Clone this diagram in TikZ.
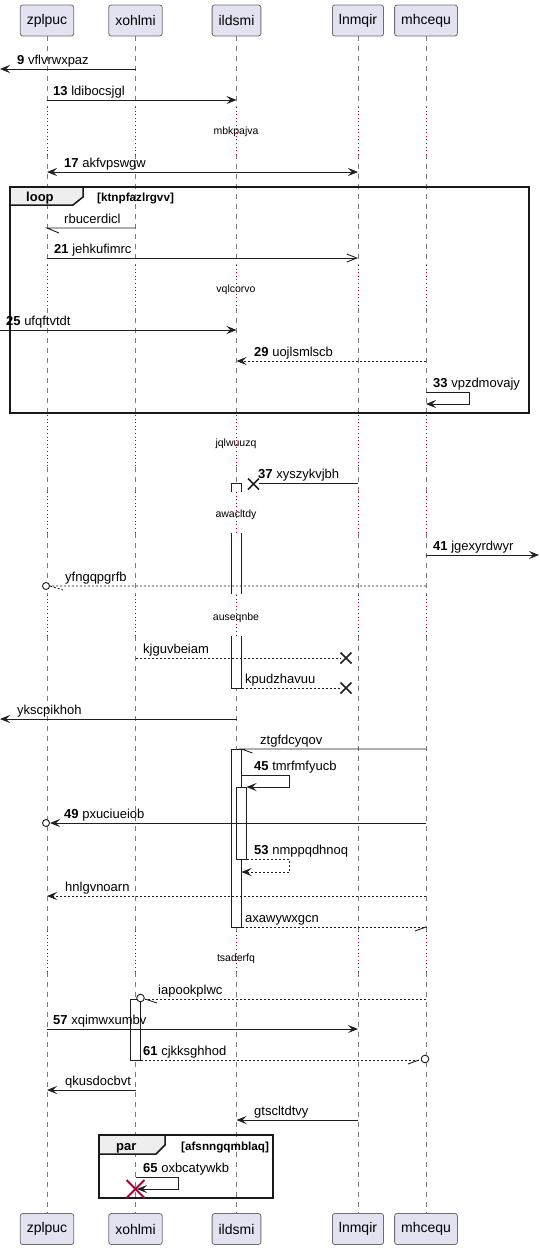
\documentclass[tikz,border=0pt]{standalone}
\usepackage{fontspec}
\setmainfont{Liberation Sans}
\usetikzlibrary{arrows.meta}
\definecolor{headfill}{HTML}{E2E2F0}
\definecolor{headline}{HTML}{6E6E6E}
\definecolor{lifeline}{HTML}{7A7A7A}
\definecolor{delaydot}{HTML}{A80036}
\definecolor{tabfill}{HTML}{EEEEEE}
\begin{document}
\begin{tikzpicture}[x=1pt,y=-1pt,
  head/.style={draw=headline,fill=headfill,rounded corners=2.5pt,line width=0.8pt,
    minimum height=31pt,inner xsep=6.5pt,inner ysep=0pt,font=\fontsize{14}{16}\selectfont},
  life/.style={draw=lifeline,line width=0.8pt,dash pattern=on 5pt off 5pt},
  delayline/.style={draw=delaydot,line width=1pt,dash pattern=on 1pt off 2.6pt},
  msg/.style={draw=black!88,line width=0.9pt},
  ret/.style={msg,dash pattern=on 2pt off 2pt},
  tip/.style={-{Stealth[length=10pt,width=8pt,inset=4pt]}},
  tips/.style={{Stealth[length=10pt,width=8pt,inset=4pt]}-{Stealth[length=10pt,width=8pt,inset=4pt]}},
  opentip/.style={-{Straight Barb[length=10pt,width=8pt]}},
  lbl/.style={anchor=base west,inner sep=0pt,font=\fontsize{13}{15}\selectfont},
  dly/.style={anchor=base,inner sep=0pt,font=\fontsize{10.5}{12}\selectfont},
  act/.style={draw=black!88,line width=0.8pt},
  frm/.style={draw=black!90,line width=1.5pt},
  tabbox/.style={draw=black!90,fill=tabfill,line width=1.5pt},
  tabtxt/.style={anchor=base west,inner sep=0pt,font=\bfseries\fontsize{13}{15}\selectfont},
  guard/.style={anchor=base west,inner sep=0pt,font=\bfseries\fontsize{11.7}{13}\selectfont},
  cross/.style={draw=black!88,line width=1.5pt},
  endcirc/.style={draw=black!88,line width=0.9pt,fill=white},
]
\useasboundingbox (0,0) rectangle (539,1250);
\fill[white] (0,0) rectangle (539,1250);

% free ends on the page edges
\coordinate (leftedge) at (0,0);
\coordinate (rightedge) at (539,0);

% participants, top and bottom
\node[head] (zplpuc) at (47,20.5) {zplpuc};
\node[head] (xohlmi) at (135.5,20.5) {xohlmi};
\node[head] (ildsmi) at (236.5,20.5) {ildsmi};
\node[head] (lnmqir) at (358,20.5) {lnmqir};
\node[head] (mhcequ) at (426,20.5) {mhcequ};
\node[head] (zplpuc-b) at (47,1229) {zplpuc};
\node[head] (xohlmi-b) at (135.5,1229) {xohlmi};
\node[head] (ildsmi-b) at (236.5,1229) {ildsmi};
\node[head] (lnmqir-b) at (358,1229) {lnmqir};
\node[head] (mhcequ-b) at (426,1229) {mhcequ};

% activation edges
\coordinate (ildsmiR) at (241.5,0);
\coordinate (ildsmiRR) at (246.5,0);
\coordinate (xohlmiR) at (140.5,0);

% lifelines: dashed, dotted through the delays
\foreach \p in {zplpuc,xohlmi,ildsmi,lnmqir,mhcequ}{
  \foreach \a/\b in {36/107,154/265,308/415,467/492,533/595,636/931,972/1213}
    \draw[life] (\p |- 0,\a) -- (\p |- 0,\b);
  \foreach \a/\b in {107/154,265/308,415/467,492/533,595/636,931/972}
    \draw[delayline] (\p |- 0,\a) -- (\p |- 0,\b);
}

% delay captions
\node[dly] (d1) at (236,134) {mbkpajva};
\node[dly] (d2) at (236,292) {vqlcorvo};
\node[dly] (d3) at (236,446) {jqlwuuzq};
\node[dly] (d4) at (236,517) {awacltdy};
\node[dly] (d5) at (236,620) {auseqnbe};
\node[dly] (d6) at (236,961) {tsaderfq};

% activation bars
\foreach \a/\b in {483/492,533/594,636/688}
  \fill[white] (231.5,\a) rectangle (241.5,\b);
\draw[act] (231.5,492) -- (231.5,483) -- (241.5,483) -- (241.5,492);
\draw[act] (231.5,533) -- (231.5,594) (241.5,533) -- (241.5,594);
\draw[act] (231.5,636) -- (231.5,688) -- (241.5,688) -- (241.5,636);
\draw[act,fill=white] (231.5,749) rectangle (241.5,927);
\draw[act,fill=white] (236.5,787) rectangle (246.5,859);
\draw[act,fill=white] (130.5,999) rectangle (140.5,1060);

% loop frame
\draw[frm] (10,187) rectangle (529,413);
\draw[tabbox] (10,187) -- (83,187) -- (83,197) -- (73,205) -- (10,205) -- cycle;
\node[tabtxt] (looplbl) at (26,201) {loop};
\node[guard] (loopguard) at (97,201) {[ktnpfazlrgvv]};

% par frame
\draw[frm] (99,1135) rectangle (273,1198);
\draw[tabbox] (99,1135) -- (165,1135) -- (165,1145) -- (156,1154) -- (99,1154) -- cycle;
\node[tabtxt] (parlbl) at (116,1150) {par};
\node[guard] (parguard) at (181,1150) {[afsnngqmblaq]};

% messages
\draw[msg,tip] (xohlmi |- 0,69) -- (leftedge |- 0,69);
\node[lbl] at (17,64.5) {\textbf{9} vflvrwxpaz};

\draw[msg,tip] (zplpuc |- 0,100) -- (ildsmi |- 0,100);
\node[lbl] at (53,95.5) {\textbf{13} ldibocsjgl};

\draw[msg,tips] (zplpuc |- 0,172) -- (lnmqir |- 0,172);
\node[lbl] at (64,167.5) {\textbf{17} akfvpswgw};

\draw[msg] (xohlmi |- 0,228) -- (zplpuc |- 0,228) -- ++(12,5);
\node[lbl] at (64,223.5) {rbucerdicl};

\draw[msg,opentip] (zplpuc |- 0,258) -- (lnmqir |- 0,258);
\node[lbl] at (54,253.5) {\textbf{21} jehkufimrc};

\draw[msg,tip] (leftedge |- 0,330) -- (ildsmi |- 0,330);
\node[lbl] at (6,325.5) {\textbf{25} ufqftvtdt};

\draw[ret,tip] (mhcequ |- 0,361) -- (ildsmi |- 0,361);
\node[lbl] at (254,356.5) {\textbf{29} uojlsmlscb};

\draw[msg,tip] (mhcequ |- 0,392) -- ++(43,0) -- ++(0,12) -- (mhcequ |- 0,404);
\node[lbl] at (433,387.5) {\textbf{33} vpzdmovajy};

\coordinate (x37) at (253.5,484);
\draw[msg] (lnmqir |- 0,483) -- (259,483);
\draw[cross] (x37) +(-5.5,-5.5) -- +(5.5,5.5) +(-5.5,5.5) -- +(5.5,-5.5);
\node[lbl] at (258,478.5) {\textbf{37} xyszykvjbh};

\draw[msg,tip] (mhcequ |- 0,555) -- (rightedge |- 0,555);
\node[lbl] at (433,550.5) {\textbf{41} jgexyrdwyr};

\draw[ret] (mhcequ |- 0,586) -- (50,586) -- ++(13,4);
\draw[endcirc] (46,586) circle (3.5pt);
\node[lbl] at (65,581.5) {yfngqpgrfb};

\coordinate (x1) at (346,658);
\draw[ret] (xohlmi |- 0,658) -- (340,658);
\draw[cross] (x1) +(-5.5,-5.5) -- +(5.5,5.5) +(-5.5,5.5) -- +(5.5,-5.5);
\node[lbl] at (143,653.5) {kjguvbeiam};

\coordinate (x2) at (346,688);
\draw[ret] (ildsmiR |- 0,688) -- (340,688);
\draw[cross] (x2) +(-5.5,-5.5) -- +(5.5,5.5) +(-5.5,5.5) -- +(5.5,-5.5);
\node[lbl] at (245,683.5) {kpudzhavuu};

\draw[msg,tip] (ildsmi |- 0,719) -- (leftedge |- 0,719);
\node[lbl] at (17,714.5) {ykscpikhoh};

\draw[msg] (mhcequ |- 0,749) -- (ildsmiR |- 0,749) -- ++(11,4);
\node[lbl] at (260,744.5) {ztgfdcyqov};

\draw[msg,tip] (ildsmiR |- 0,775) -- (289,775) -- (289,787) -- (ildsmiRR |- 0,787);
\node[lbl] at (254,770.5) {\textbf{45} tmrfmfyucb};

\draw[msg,tip] (mhcequ |- 0,823) -- (50,823);
\draw[endcirc] (46,823) circle (3.5pt);
\node[lbl] at (64,818.5) {\textbf{49} pxuciueiob};

\draw[ret,tip] (ildsmiRR |- 0,859) -- (289,859) -- (289,872) -- (ildsmiR |- 0,872);
\node[lbl] at (254,854.5) {\textbf{53} nmppqdhnoq};

\draw[ret,tip] (mhcequ |- 0,896) -- (zplpuc |- 0,896);
\node[lbl] at (65,891.5) {hnlgvnoarn};

\draw[ret] (ildsmiR |- 0,927) -- (mhcequ |- 0,927);
\draw[msg] (mhcequ |- 0,927) -- ++(-11,4);
\node[lbl] at (245,922.5) {axawywxgcn};

\draw[ret] (mhcequ |- 0,999) -- (145,999);
\draw[msg] (145,999) -- ++(12,4);
\draw[endcirc] (140.5,998) circle (3.8pt);
\node[lbl] at (158,994.5) {iapookplwc};

\draw[msg,tip] (zplpuc |- 0,1029) -- (lnmqir |- 0,1029);
\node[lbl] at (53,1024.5) {\textbf{57} xqimwxumbv};

\draw[ret] (xohlmiR |- 0,1060) -- (421,1060);
\draw[msg] (419,1060) -- ++(-11,4);
\draw[endcirc] (425,1059) circle (3.8pt);
\node[lbl] at (143,1055.5) {\textbf{61} cjkksghhod};

\draw[msg,tip] (xohlmi |- 0,1090) -- (zplpuc |- 0,1090);
\node[lbl] at (65,1085.5) {qkusdocbvt};

\draw[msg,tip] (lnmqir |- 0,1120) -- (ildsmi |- 0,1120);
\node[lbl] at (254,1115.5) {gtscltdtvy};

\draw[msg,tip] (xohlmi |- 0,1177) -- (178,1177) -- (178,1189) -- (137,1189);
\node[lbl] at (143,1172.5) {\textbf{65} oxbcatywkb};
\coordinate (xend) at (135.5,1189);
\draw[cross,draw=delaydot,line width=2pt] (xend) +(-9,-9) -- +(9,9) +(-9,9) -- +(9,-9);
\end{tikzpicture}
\end{document}
